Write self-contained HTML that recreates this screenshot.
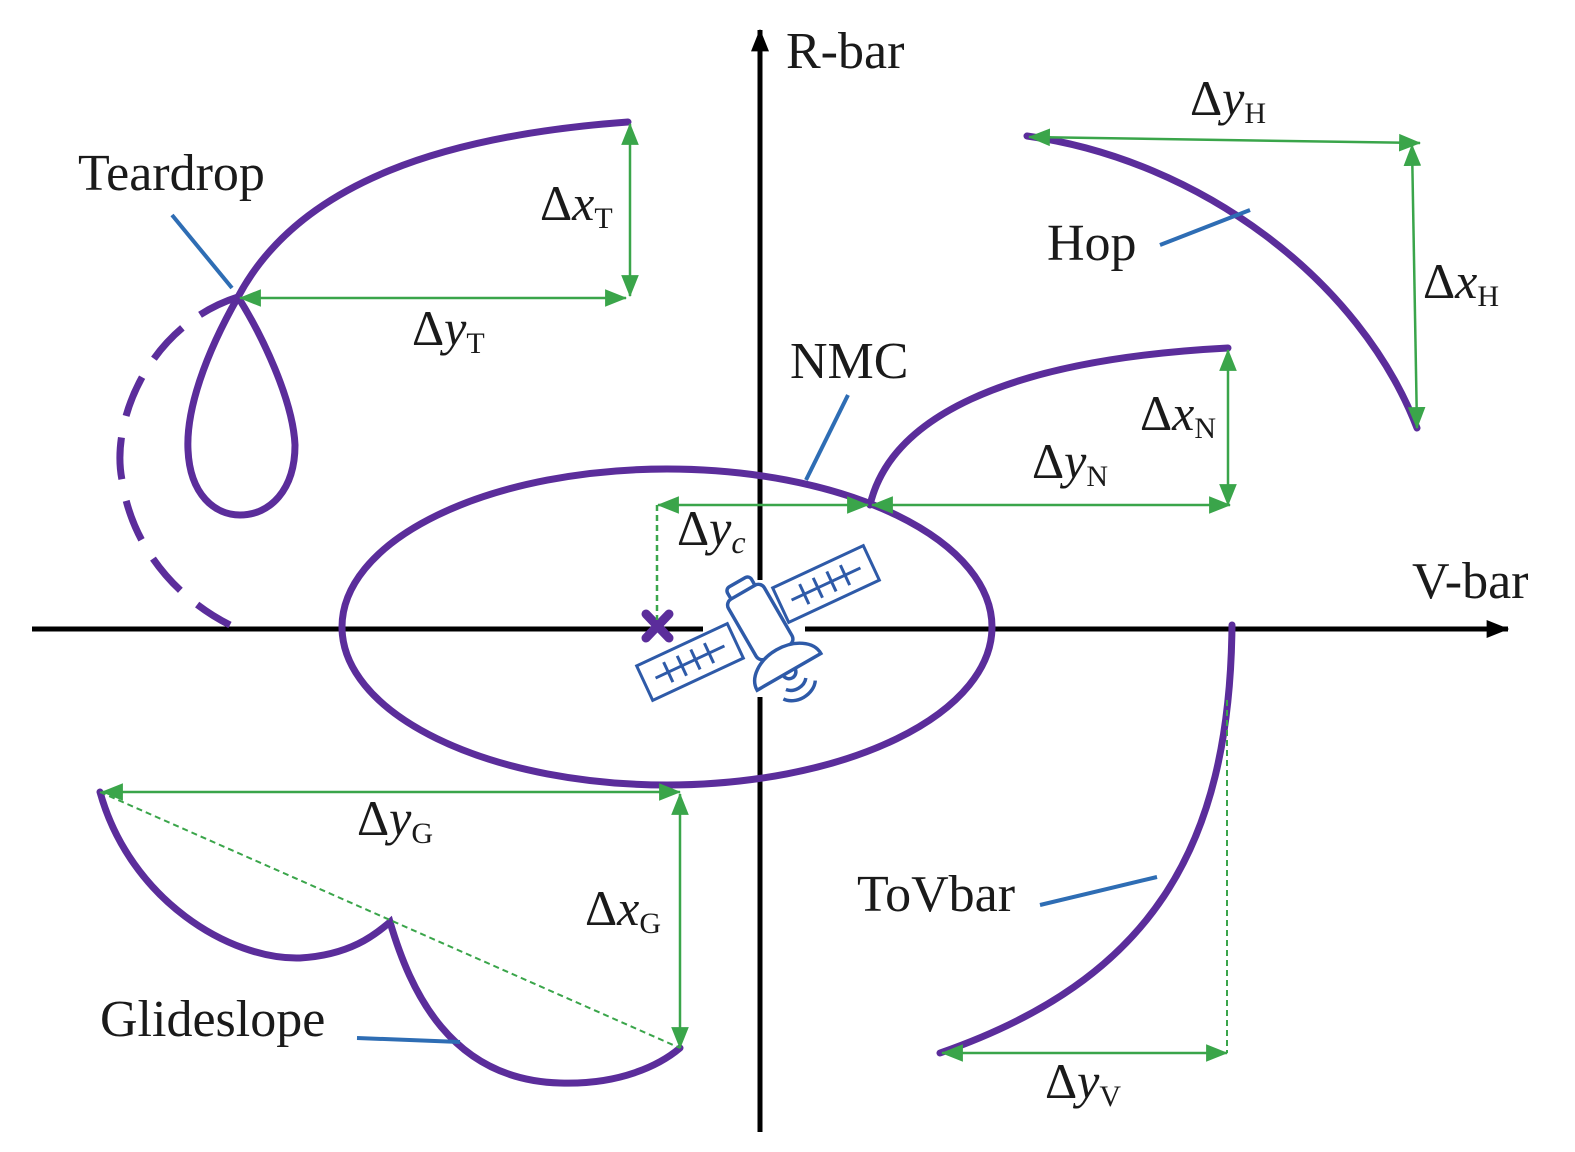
<!DOCTYPE html>
<html><head><meta charset="utf-8"><style>
html,body{margin:0;padding:0;background:#fff;}
svg{display:block;}
text{font-family:"Liberation Serif",serif;fill:#1a1a1a;}
</style></head><body>
<svg width="1575" height="1152" viewBox="0 0 1575 1152" xmlns="http://www.w3.org/2000/svg">
<defs>
<marker id="gb" viewBox="0 0 20 16" refX="19" refY="8" markerWidth="22" markerHeight="18" orient="auto-start-reverse" markerUnits="userSpaceOnUse">
<path d="M0,0 L20,8 L0,16 z" fill="#3aa54a"/></marker>
<marker id="ka" viewBox="0 0 20 16" refX="19" refY="8" markerWidth="24" markerHeight="18" orient="auto" markerUnits="userSpaceOnUse">
<path d="M0,0 L20,8 L0,16 z" fill="#000"/></marker>
</defs>
<g stroke="#000" stroke-width="5" fill="none">
<line x1="32" y1="629" x2="703" y2="629"/>
<line x1="805" y1="629" x2="1508" y2="629" marker-end="url(#ka)"/>
<line x1="760" y1="1132" x2="760" y2="697"/>
<line x1="760" y1="580" x2="760" y2="30" marker-end="url(#ka)"/>
</g>
<g fill="none" stroke="#5b2d9b" stroke-width="7" stroke-linecap="round">
<ellipse cx="667" cy="627" rx="325" ry="158"/>
<path d="M238,297 C300,180 450,135 628,122"/>
<path d="M238,297 C205,355 186,410 188,450 C190,495 215,515 240,515 C270,515 295,490 295,445 C293,400 262,335 238,297"/>
<path d="M238,297 C150,325 110,420 122,480 C132,550 180,600 230,625" stroke-dasharray="42,22" stroke-linecap="butt"/>
<path d="M1027,136 C1200,160 1360,280 1417,428"/>
<path d="M870,505 C890,420 1000,360 1228,348"/>
<path d="M100,792 C130,900 230,960 300,958 C350,955 375,935 390,922 C410,990 450,1080 560,1083 C620,1085 660,1065 680,1048"/>
<path d="M1232,625 C1230,850 1150,980 940,1053"/>
</g>
<g stroke="#5b2d9b" stroke-width="9" stroke-linecap="round">
<line x1="646" y1="614" x2="669" y2="638"/><line x1="669" y1="614" x2="646" y2="638"/>
</g>
<g stroke="#3aa54a" stroke-width="2.5" fill="none">
<line x1="630" y1="124" x2="630" y2="296" marker-start="url(#gb)" marker-end="url(#gb)"/>
<line x1="240" y1="298" x2="626" y2="298" marker-start="url(#gb)" marker-end="url(#gb)"/>
<line x1="1029" y1="137" x2="1420" y2="143" marker-start="url(#gb)" marker-end="url(#gb)"/>
<line x1="1412" y1="145" x2="1417" y2="428" marker-start="url(#gb)" marker-end="url(#gb)"/>
<line x1="1228" y1="350" x2="1228" y2="505" marker-start="url(#gb)" marker-end="url(#gb)"/>
<line x1="872" y1="505" x2="1230" y2="505" marker-start="url(#gb)" marker-end="url(#gb)"/>
<line x1="658" y1="505" x2="868" y2="505" marker-start="url(#gb)" marker-end="url(#gb)"/>
<line x1="102" y1="792" x2="680" y2="792" marker-start="url(#gb)" marker-end="url(#gb)"/>
<line x1="680" y1="794" x2="680" y2="1048" marker-start="url(#gb)" marker-end="url(#gb)"/>
<line x1="942" y1="1053" x2="1227" y2="1053" marker-start="url(#gb)" marker-end="url(#gb)"/>
<line x1="657" y1="505" x2="657" y2="620" stroke-dasharray="6,4"/>
<line x1="100" y1="792" x2="680" y2="1048" stroke-dasharray="6,4" stroke-width="2"/>
<line x1="1227" y1="700" x2="1227" y2="1053" stroke-dasharray="6,4" stroke-width="2"/>
</g>
<g stroke="#2e6db4" stroke-width="4">
<line x1="172" y1="215" x2="232" y2="288"/>
<line x1="1160" y1="245" x2="1250" y2="210"/>
<line x1="848" y1="395" x2="806" y2="480"/>
<line x1="357" y1="1038" x2="460" y2="1042"/>
<line x1="1040" y1="905" x2="1157" y2="877"/>
</g>
<g stroke="#2e5aa8" stroke-width="3" fill="#fff">
<g transform="translate(690,662) rotate(-25)">
<rect x="-50" y="-19" width="100" height="38"/>
<line x1="-38" y1="0" x2="38" y2="0"/>
<line x1="-24" y1="-11" x2="-24" y2="11"/><line x1="-9" y1="-11" x2="-9" y2="11"/><line x1="6" y1="-11" x2="6" y2="11"/><line x1="21" y1="-11" x2="21" y2="11"/>
</g>
<g transform="translate(826,584) rotate(-25)">
<rect x="-50" y="-19" width="100" height="38"/>
<line x1="-38" y1="0" x2="38" y2="0"/>
<line x1="-24" y1="-11" x2="-24" y2="11"/><line x1="-9" y1="-11" x2="-9" y2="11"/><line x1="6" y1="-11" x2="6" y2="11"/><line x1="21" y1="-11" x2="21" y2="11"/>
</g>
<g transform="translate(766,632) rotate(-30) scale(1.15)">
<rect x="-12" y="-50" width="24" height="12" rx="4"/>
<rect x="-18" y="-40" width="36" height="60" rx="6"/>
<path d="M-32,40 A32,22 0 0 1 32,40 Z"/>
<path d="M-6,40 A6,6 0 0 0 6,40" fill="none"/>
<path d="M-10,52 A12,10 0 0 0 10,52" fill="none"/>
<path d="M-16,58 A18,14 0 0 0 16,58" fill="none"/>
</g>
</g>
<g font-size="52">
<text x="786" y="68">R-bar</text>
<text x="1412" y="598">V-bar</text>
<text x="78" y="190">Teardrop</text>
<text x="1047" y="260">Hop</text>
<text x="790" y="378">NMC</text>
<text x="857" y="911">ToVbar</text>
<text x="100" y="1036">Glideslope</text>
</g>
<g font-size="50">
<text x="540" y="220">Δ<tspan font-style="italic">x</tspan><tspan font-size="30" dy="8">T</tspan></text>
<text x="412" y="345">Δ<tspan font-style="italic">y</tspan><tspan font-size="30" dy="8">T</tspan></text>
<text x="1190" y="115">Δ<tspan font-style="italic">y</tspan><tspan font-size="30" dy="8">H</tspan></text>
<text x="1423" y="298">Δ<tspan font-style="italic">x</tspan><tspan font-size="30" dy="8">H</tspan></text>
<text x="1140" y="430">Δ<tspan font-style="italic">x</tspan><tspan font-size="30" dy="8">N</tspan></text>
<text x="1032" y="478">Δ<tspan font-style="italic">y</tspan><tspan font-size="30" dy="8">N</tspan></text>
<text x="677" y="545">Δ<tspan font-style="italic">y</tspan><tspan font-size="32" font-style="italic" dy="8">c</tspan></text>
<text x="357" y="835">Δ<tspan font-style="italic">y</tspan><tspan font-size="30" dy="8">G</tspan></text>
<text x="585" y="925">Δ<tspan font-style="italic">x</tspan><tspan font-size="30" dy="8">G</tspan></text>
<text x="1045" y="1098">Δ<tspan font-style="italic">y</tspan><tspan font-size="30" dy="8">V</tspan></text>
</g>
</svg>
</body></html>
